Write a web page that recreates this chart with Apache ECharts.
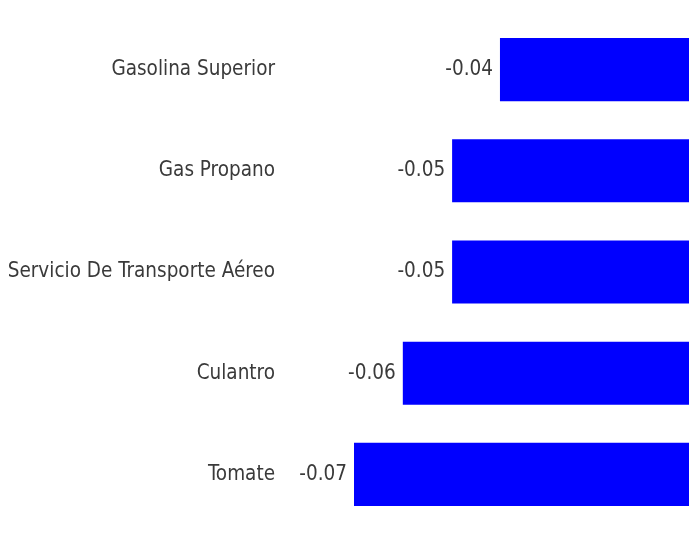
<!DOCTYPE html>
<html>
<head>
<meta charset="utf-8">
<script src="https://cdn.jsdelivr.net/npm/echarts@6/dist/echarts.min.js"></script>
<style>
  html, body { margin: 0; padding: 0; background: #fff; }
  #main { width: 689px; height: 533px; }
</style>
</head>
<body>
<div id="main"></div>
<script>
// categories, top to bottom
var categories = ['Gasolina Superior', 'Gas Propano', 'Servicio De Transporte Aéreo', 'Culantro', 'Tomate'];
var values = [-0.0395, -0.0495, -0.0495, -0.0598, -0.07];

var fontName = '"Liberation Sans Narrow", "DejaVu Sans Condensed", sans-serif';

var myChart = echarts.init(document.getElementById('main'));
var option = {
    backgroundColor: '#ffffff',
    animation: false,
    grid: {
        left: 354,
        right: 0,
        top: 19,
        bottom: 8,
        containLabel: false,
        outerBoundsMode: 'none'
    },
    xAxis: {
        type: 'value',
        min: -0.07,
        max: 0,
        show: false
    },
    yAxis: {
        type: 'category',
        inverse: true,
        data: categories,
        position: 'left',
        offset: 71,
        axisLine: { show: false },
        axisTick: { show: false },
        axisLabel: {
            color: '#3a3a3a',
            fontSize: 20.5,
            fontFamily: fontName,
            margin: 8
        }
    },
    series: [{
        type: 'bar',
        data: values,
        barCategoryGap: '37.6%',
        itemStyle: { color: '#0000ff' },
        label: {
            show: true,
            position: 'left',
            distance: 7,
            color: '#3a3a3a',
            fontSize: 20.5,
            fontFamily: fontName,
            formatter: function (p) { return p.value.toFixed(2); }
        }
    }]
};
myChart.setOption(option);
</script>
</body>
</html>
